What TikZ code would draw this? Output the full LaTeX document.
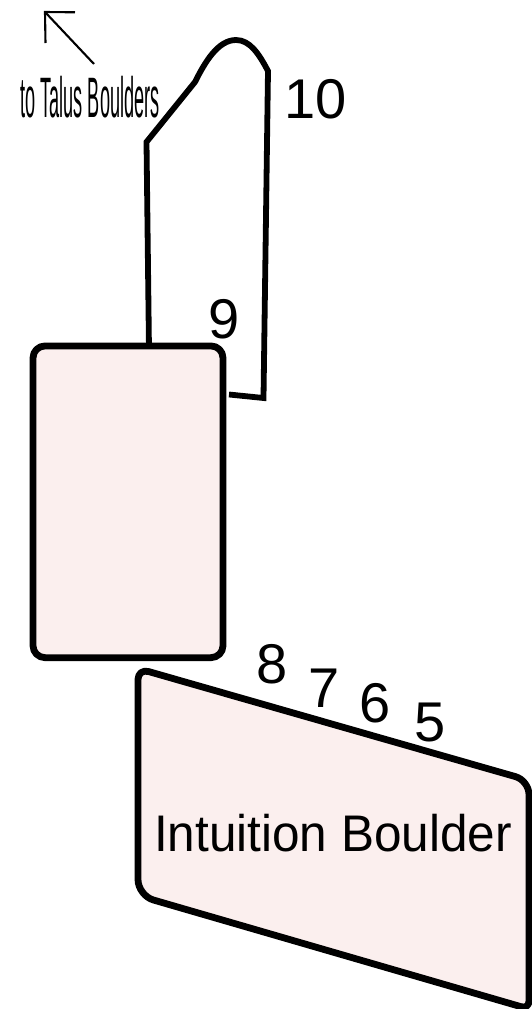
\documentclass[tikz,border=0pt]{standalone}
\usepackage{fontspec}
\setmainfont{Liberation Sans}
\definecolor{rockfill}{HTML}{FBEFEE}
\tikzset{
  rock/.style={draw=black,line width=6.8pt,fill=rockfill,line join=round},
  trail/.style={draw=black,line width=5.8pt,line join=miter},
  pointer/.style={draw=black,line width=2.1pt},
  num/.style={inner sep=0pt,anchor=base,font=\fontsize{56}{56}\selectfont},
  bigtext/.style={inner sep=0pt,anchor=base,font=\fontsize{49.5}{49.5}\selectfont},
  thintext/.style={inner sep=0pt,anchor=base,font=\fontsize{57}{57}\selectfont}
}
\begin{document}
\begin{tikzpicture}[x=1pt,y=-1pt]
\useasboundingbox (0,0) rectangle (532,1009);
% trail
\coordinate (t0) at (149,350);
\coordinate (t1) at (146.5,142);
\coordinate (t2) at (195,82);
\coordinate (t3) at (236,40);
\coordinate (t4) at (268,71);
\coordinate (t5) at (263.5,398);
\coordinate (t6) at (229,394.5);
\draw[trail] (t0) -- (t1) -- (t2)
  .. controls (205,62) and (218,40) .. (t3)
  .. controls (250,40) and (259,54) .. (t4)
  -- (t5) -- (t6);
% wall block
\node[rock,rounded corners=12pt,minimum width=190pt,minimum height=311.7pt,inner sep=0pt,outer sep=0pt] (block) at (128,501.8) {};
% boulder
\filldraw[rock] (138,780) [rounded corners=11pt] -- (138,668.5) [rounded corners=14pt] -- (529,780.5) [rounded corners=8pt] -- (529,1009) [rounded corners=16pt] -- (138,895.5) [sharp corners] -- cycle;
% pointer
\coordinate (p0) at (94,64);
\coordinate (p1) at (45,12);
\coordinate (p2) at (75,12.3);
\coordinate (p3) at (45.5,43);
\draw[pointer] (p0) -- (p1);
\draw[pointer] (p2) -- (p1) -- (p3);
% labels
\node[thintext] (talus) at (90,117) {\scalebox{0.318}[1]{to Talus Boulders}};
\node[num] (n10) at (316,118) {10};
\node[num] (n9) at (224,338) {9};
\node[num] (n8) at (272,683) {8};
\node[num] (n7) at (324,707) {7};
\node[num] (n6) at (375,722) {6};
\node[num] (n5) at (430,741) {5};
\node[bigtext] (name) at (333,851) {\scalebox{1}[1.04]{Intuition Boulder}};
\end{tikzpicture}
\end{document}
